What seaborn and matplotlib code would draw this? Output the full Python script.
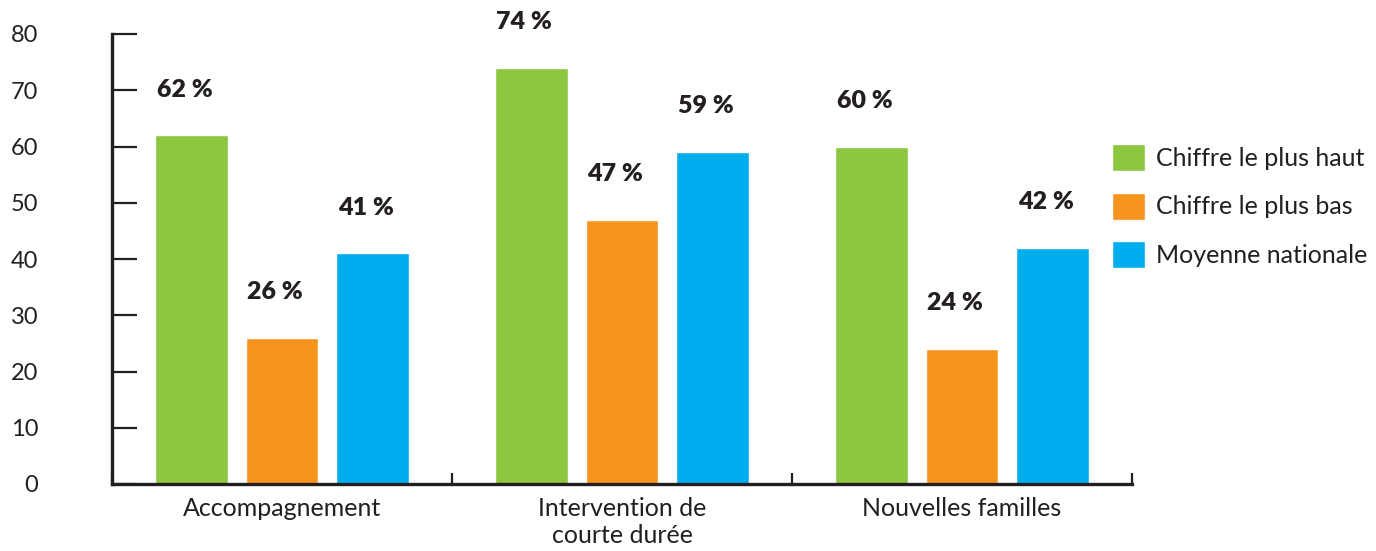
import matplotlib
matplotlib.use("Agg")
import matplotlib.pyplot as plt
import seaborn as sns
import pandas as pd
from matplotlib.ticker import FixedLocator

categories = ["Accompagnement", "Intervention de\ncourte durée", "Nouvelles familles"]
series_names = ["Chiffre le plus haut", "Chiffre le plus bas", "Moyenne nationale"]
highest = [62, 74, 60]
lowest = [26, 47, 24]
national = [41, 59, 42]
colors = ["#8dc63f", "#f7941d", "#00aeef"]
yticks = [0, 10, 20, 30, 40, 50, 60, 70, 80]

sns.set_theme(style="white")
plt.rcParams["font.family"] = ["Lato", "DejaVu Sans"]
dark = "#231f20"

rows = []
for name, vals in zip(series_names, [highest, lowest, national]):
    for c, v in zip(categories, vals):
        rows.append({"cat": c, "series": name, "value": v})
df = pd.DataFrame(rows)

fig = plt.figure(figsize=(13.76, 5.51), dpi=100)
ax = fig.add_axes([112/1376, 67/551, 1020/1376, 450/551])

sns.barplot(data=df, x="cat", y="value", hue="series", order=categories,
            hue_order=series_names, palette=colors, width=0.8, gap=0.2,
            saturation=1, ax=ax, legend=True)

handles, labels = ax.get_legend_handles_labels()
ax.get_legend().remove()

ax.set_xlim(-0.5, 2.5)
ax.set_ylim(0, 80)
ax.set_yticks(yticks)
ax.set_xlabel("")
ax.set_ylabel("")

for s in ["top", "right"]:
    ax.spines[s].set_visible(False)
for s in ["left", "bottom"]:
    ax.spines[s].set_color(dark)
    ax.spines[s].set_linewidth(2.4)

ax.tick_params(axis="y", direction="in", length=18, width=1.6, color=dark,
               pad=53, labelsize=17, labelcolor=dark, left=True)
ax.tick_params(axis="x", which="major", length=0, pad=9, labelsize=18, labelcolor=dark)
ax.xaxis.set_minor_locator(FixedLocator([-0.5, 0.5, 1.5, 2.5]))
ax.tick_params(axis="x", which="minor", direction="in", length=8, width=1.6,
               color=dark, bottom=True)
for lab in ax.get_yticklabels():
    lab.set_horizontalalignment("right")
for lab in ax.get_xticklabels():
    lab.set_linespacing(1.25)

for cont in ax.containers:
    for bar in cont:
        h = bar.get_height()
        ax.annotate(f"{h:.0f} %", (bar.get_x() + bar.get_width() / 2, h),
                    xytext=(-5, 25), textcoords="offset points",
                    ha="center", va="bottom", fontsize=18, fontweight="heavy",
                    color=dark, annotation_clip=False)

fig.legend(handles, labels, loc="upper left", bbox_to_anchor=(1112/1376, 1 - 144/551),
           frameon=False, fontsize=18, handlelength=1.3, handleheight=1.3,
           handletextpad=0.45, labelspacing=0.85, borderpad=0, borderaxespad=0,
           labelcolor=dark)

fig.savefig("out.png", dpi=100)
